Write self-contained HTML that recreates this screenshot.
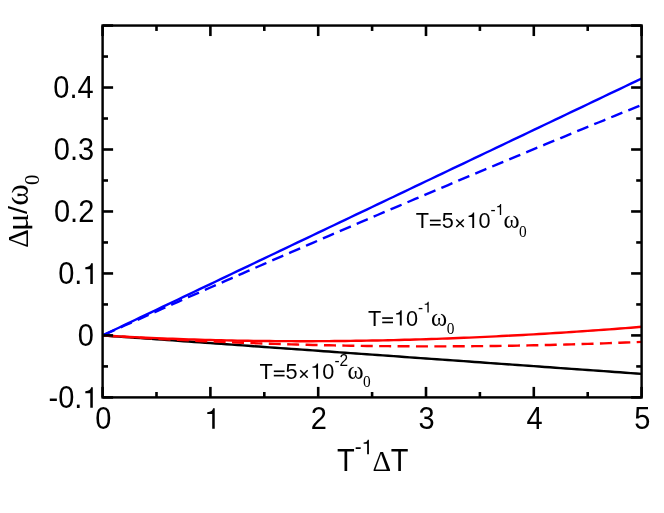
<!DOCTYPE html><html><head><meta charset="utf-8"><style>html,body{margin:0;padding:0;background:#fff}svg{display:block;will-change:transform}</style></head><body><svg width="664" height="513" viewBox="0 0 664 513">
<defs><clipPath id="mu"><rect x="-100" y="-100" width="400" height="104.3"/></clipPath></defs>
<rect width="664" height="513" fill="#fff"/>
<g fill="none" stroke-width="2.40" stroke-linejoin="round">
<path d="M102.60,335.42 L107.99,335.81 L113.38,336.19 L118.77,336.58 L124.16,336.96 L129.55,337.35 L134.94,337.73 L140.33,338.11 L145.72,338.50 L151.11,338.88 L156.50,339.27 L161.89,339.65 L167.28,340.04 L172.67,340.42 L178.06,340.80 L183.45,341.19 L188.84,341.57 L194.23,341.96 L199.62,342.34 L205.01,342.73 L210.40,343.11 L215.79,343.49 L221.18,343.88 L226.57,344.26 L231.96,344.65 L237.35,345.03 L242.74,345.42 L248.13,345.80 L253.52,346.18 L258.91,346.57 L264.30,346.95 L269.69,347.34 L275.08,347.72 L280.47,348.11 L285.86,348.49 L291.25,348.87 L296.64,349.26 L302.03,349.64 L307.42,350.03 L312.81,350.41 L318.20,350.79 L323.59,351.18 L328.98,351.56 L334.37,351.95 L339.76,352.33 L345.15,352.72 L350.54,353.10 L355.93,353.48 L361.32,353.87 L366.71,354.25 L372.10,354.64 L377.49,355.02 L382.88,355.41 L388.27,355.79 L393.66,356.17 L399.05,356.56 L404.44,356.94 L409.83,357.33 L415.22,357.71 L420.61,358.10 L426.00,358.48 L431.39,358.86 L436.78,359.25 L442.17,359.63 L447.56,360.02 L452.95,360.40 L458.34,360.79 L463.73,361.17 L469.12,361.55 L474.51,361.94 L479.90,362.32 L485.29,362.71 L490.68,363.09 L496.07,363.47 L501.46,363.86 L506.85,364.24 L512.24,364.63 L517.63,365.01 L523.02,365.40 L528.41,365.78 L533.80,366.16 L539.19,366.55 L544.58,366.93 L549.97,367.32 L555.36,367.70 L560.75,368.09 L566.14,368.47 L571.53,368.85 L576.92,369.24 L582.31,369.62 L587.70,370.01 L593.09,370.39 L598.48,370.78 L603.87,371.16 L609.26,371.54 L614.65,371.93 L620.04,372.31 L625.43,372.70 L630.82,373.08 L636.21,373.47 L641.60,373.85" stroke="#000"/>
<path d="M102.60,335.42 L107.99,335.74 L113.38,336.04 L118.77,336.34 L124.16,336.62 L129.55,336.90 L134.94,337.17 L140.33,337.43 L145.72,337.68 L151.11,337.92 L156.50,338.15 L161.89,338.37 L167.28,338.59 L172.67,338.79 L178.06,338.99 L183.45,339.18 L188.84,339.36 L194.23,339.53 L199.62,339.69 L205.01,339.85 L210.40,339.99 L215.79,340.13 L221.18,340.26 L226.57,340.38 L231.96,340.49 L237.35,340.59 L242.74,340.69 L248.13,340.78 L253.52,340.85 L258.91,340.92 L264.30,340.99 L269.69,341.04 L275.08,341.09 L280.47,341.12 L285.86,341.15 L291.25,341.17 L296.64,341.19 L302.03,341.19 L307.42,341.19 L312.81,341.18 L318.20,341.16 L323.59,341.14 L328.98,341.10 L334.37,341.06 L339.76,341.01 L345.15,340.95 L350.54,340.89 L355.93,340.82 L361.32,340.74 L366.71,340.65 L372.10,340.55 L377.49,340.45 L382.88,340.34 L388.27,340.22 L393.66,340.10 L399.05,339.96 L404.44,339.82 L409.83,339.68 L415.22,339.52 L420.61,339.36 L426.00,339.19 L431.39,339.01 L436.78,338.83 L442.17,338.64 L447.56,338.44 L452.95,338.24 L458.34,338.02 L463.73,337.80 L469.12,337.58 L474.51,337.34 L479.90,337.10 L485.29,336.86 L490.68,336.60 L496.07,336.34 L501.46,336.07 L506.85,335.80 L512.24,335.52 L517.63,335.23 L523.02,334.93 L528.41,334.63 L533.80,334.33 L539.19,334.01 L544.58,333.69 L549.97,333.36 L555.36,333.03 L560.75,332.69 L566.14,332.34 L571.53,331.99 L576.92,331.63 L582.31,331.26 L587.70,330.89 L593.09,330.51 L598.48,330.12 L603.87,329.73 L609.26,329.33 L614.65,328.93 L620.04,328.52 L625.43,328.10 L630.82,327.68 L636.21,327.25 L641.60,326.82" stroke="#f00"/>
<path d="M102.60,335.42 L107.99,335.78 L113.38,336.13 L118.77,336.48 L124.16,336.81 L129.55,337.15 L134.94,337.47 L140.33,337.79 L145.72,338.11 L151.11,338.42 L156.50,338.72 L161.89,339.02 L167.28,339.31 L172.67,339.59 L178.06,339.87 L183.45,340.15 L188.84,340.41 L194.23,340.67 L199.62,340.93 L205.01,341.18 L210.40,341.42 L215.79,341.66 L221.18,341.89 L226.57,342.12 L231.96,342.34 L237.35,342.56 L242.74,342.76 L248.13,342.97 L253.52,343.16 L258.91,343.36 L264.30,343.54 L269.69,343.72 L275.08,343.89 L280.47,344.06 L285.86,344.22 L291.25,344.38 L296.64,344.53 L302.03,344.67 L307.42,344.81 L312.81,344.94 L318.20,345.07 L323.59,345.19 L328.98,345.30 L334.37,345.41 L339.76,345.51 L345.15,345.61 L350.54,345.70 L355.93,345.79 L361.32,345.87 L366.71,345.94 L372.10,346.01 L377.49,346.07 L382.88,346.12 L388.27,346.17 L393.66,346.22 L399.05,346.26 L404.44,346.29 L409.83,346.31 L415.22,346.33 L420.61,346.35 L426.00,346.36 L431.39,346.36 L436.78,346.36 L442.17,346.35 L447.56,346.33 L452.95,346.31 L458.34,346.28 L463.73,346.25 L469.12,346.21 L474.51,346.17 L479.90,346.12 L485.29,346.06 L490.68,346.00 L496.07,345.93 L501.46,345.86 L506.85,345.78 L512.24,345.69 L517.63,345.60 L523.02,345.50 L528.41,345.40 L533.80,345.29 L539.19,345.18 L544.58,345.06 L549.97,344.93 L555.36,344.80 L560.75,344.66 L566.14,344.51 L571.53,344.36 L576.92,344.21 L582.31,344.04 L587.70,343.88 L593.09,343.70 L598.48,343.52 L603.87,343.34 L609.26,343.14 L614.65,342.95 L620.04,342.74 L625.43,342.53 L630.82,342.32 L636.21,342.10 L641.60,341.87" stroke="#f00" stroke-dasharray="12 6.4" stroke-dashoffset="17.6"/>
<path d="M102.60,335.42 L107.99,332.86 L113.38,330.29 L118.77,327.72 L124.16,325.15 L129.55,322.58 L134.94,320.01 L140.33,317.44 L145.72,314.87 L151.11,312.31 L156.50,309.74 L161.89,307.17 L167.28,304.60 L172.67,302.03 L178.06,299.46 L183.45,296.89 L188.84,294.32 L194.23,291.75 L199.62,289.19 L205.01,286.62 L210.40,284.05 L215.79,281.48 L221.18,278.91 L226.57,276.34 L231.96,273.77 L237.35,271.20 L242.74,268.63 L248.13,266.07 L253.52,263.50 L258.91,260.93 L264.30,258.36 L269.69,255.79 L275.08,253.22 L280.47,250.65 L285.86,248.08 L291.25,245.51 L296.64,242.95 L302.03,240.38 L307.42,237.81 L312.81,235.24 L318.20,232.67 L323.59,230.10 L328.98,227.53 L334.37,224.96 L339.76,222.39 L345.15,219.83 L350.54,217.26 L355.93,214.69 L361.32,212.12 L366.71,209.55 L372.10,206.98 L377.49,204.41 L382.88,201.84 L388.27,199.28 L393.66,196.71 L399.05,194.14 L404.44,191.57 L409.83,189.00 L415.22,186.43 L420.61,183.86 L426.00,181.29 L431.39,178.72 L436.78,176.16 L442.17,173.59 L447.56,171.02 L452.95,168.45 L458.34,165.88 L463.73,163.31 L469.12,160.74 L474.51,158.17 L479.90,155.60 L485.29,153.04 L490.68,150.47 L496.07,147.90 L501.46,145.33 L506.85,142.76 L512.24,140.19 L517.63,137.62 L523.02,135.05 L528.41,132.48 L533.80,129.92 L539.19,127.35 L544.58,124.78 L549.97,122.21 L555.36,119.64 L560.75,117.07 L566.14,114.50 L571.53,111.93 L576.92,109.36 L582.31,106.80 L587.70,104.23 L593.09,101.66 L598.48,99.09 L603.87,96.52 L609.26,93.95 L614.65,91.38 L620.04,88.81 L625.43,86.25 L630.82,83.68 L636.21,81.11 L641.60,78.54" stroke="#00f"/>
<path d="M102.60,335.42 L107.99,333.01 L113.38,330.59 L118.77,328.18 L124.16,325.77 L129.55,323.36 L134.94,320.95 L140.33,318.55 L145.72,316.15 L151.11,313.75 L156.50,311.35 L161.89,308.96 L167.28,306.56 L172.67,304.17 L178.06,301.79 L183.45,299.40 L188.84,297.02 L194.23,294.64 L199.62,292.26 L205.01,289.88 L210.40,287.51 L215.79,285.13 L221.18,282.76 L226.57,280.40 L231.96,278.03 L237.35,275.67 L242.74,273.31 L248.13,270.95 L253.52,268.59 L258.91,266.24 L264.30,263.89 L269.69,261.54 L275.08,259.19 L280.47,256.84 L285.86,254.50 L291.25,252.16 L296.64,249.82 L302.03,247.49 L307.42,245.15 L312.81,242.82 L318.20,240.49 L323.59,238.16 L328.98,235.84 L334.37,233.52 L339.76,231.20 L345.15,228.88 L350.54,226.56 L355.93,224.25 L361.32,221.94 L366.71,219.63 L372.10,217.32 L377.49,215.02 L382.88,212.72 L388.27,210.42 L393.66,208.12 L399.05,205.82 L404.44,203.53 L409.83,201.24 L415.22,198.95 L420.61,196.67 L426.00,194.38 L431.39,192.10 L436.78,189.82 L442.17,187.54 L447.56,185.27 L452.95,183.00 L458.34,180.73 L463.73,178.46 L469.12,176.19 L474.51,173.93 L479.90,171.67 L485.29,169.41 L490.68,167.15 L496.07,164.90 L501.46,162.64 L506.85,160.39 L512.24,158.15 L517.63,155.90 L523.02,153.66 L528.41,151.42 L533.80,149.18 L539.19,146.94 L544.58,144.71 L549.97,142.48 L555.36,140.25 L560.75,138.02 L566.14,135.79 L571.53,133.57 L576.92,131.35 L582.31,129.13 L587.70,126.91 L593.09,124.70 L598.48,122.49 L603.87,120.28 L609.26,118.07 L614.65,115.87 L620.04,113.67 L625.43,111.47 L630.82,109.27 L636.21,107.07 L641.60,104.88" stroke="#00f" stroke-dasharray="12 6.4" stroke-dashoffset="16.9"/>
</g>
<g stroke="#000" stroke-width="2.60">
<line x1="102.60" y1="397.40" x2="102.60" y2="386.90"/>
<line x1="102.60" y1="25.55" x2="102.60" y2="36.05"/>
<line x1="156.50" y1="397.40" x2="156.50" y2="392.00"/>
<line x1="156.50" y1="25.55" x2="156.50" y2="30.95"/>
<line x1="210.40" y1="397.40" x2="210.40" y2="386.90"/>
<line x1="210.40" y1="25.55" x2="210.40" y2="36.05"/>
<line x1="264.30" y1="397.40" x2="264.30" y2="392.00"/>
<line x1="264.30" y1="25.55" x2="264.30" y2="30.95"/>
<line x1="318.20" y1="397.40" x2="318.20" y2="386.90"/>
<line x1="318.20" y1="25.55" x2="318.20" y2="36.05"/>
<line x1="372.10" y1="397.40" x2="372.10" y2="392.00"/>
<line x1="372.10" y1="25.55" x2="372.10" y2="30.95"/>
<line x1="426.00" y1="397.40" x2="426.00" y2="386.90"/>
<line x1="426.00" y1="25.55" x2="426.00" y2="36.05"/>
<line x1="479.90" y1="397.40" x2="479.90" y2="392.00"/>
<line x1="479.90" y1="25.55" x2="479.90" y2="30.95"/>
<line x1="533.80" y1="397.40" x2="533.80" y2="386.90"/>
<line x1="533.80" y1="25.55" x2="533.80" y2="36.05"/>
<line x1="587.70" y1="397.40" x2="587.70" y2="392.00"/>
<line x1="587.70" y1="25.55" x2="587.70" y2="30.95"/>
<line x1="641.60" y1="397.40" x2="641.60" y2="386.90"/>
<line x1="641.60" y1="25.55" x2="641.60" y2="36.05"/>
<line x1="102.60" y1="397.40" x2="113.10" y2="397.40"/>
<line x1="641.60" y1="397.40" x2="631.10" y2="397.40"/>
<line x1="102.60" y1="366.41" x2="108.00" y2="366.41"/>
<line x1="641.60" y1="366.41" x2="636.20" y2="366.41"/>
<line x1="102.60" y1="335.42" x2="113.10" y2="335.42"/>
<line x1="641.60" y1="335.42" x2="631.10" y2="335.42"/>
<line x1="102.60" y1="304.44" x2="108.00" y2="304.44"/>
<line x1="641.60" y1="304.44" x2="636.20" y2="304.44"/>
<line x1="102.60" y1="273.45" x2="113.10" y2="273.45"/>
<line x1="641.60" y1="273.45" x2="631.10" y2="273.45"/>
<line x1="102.60" y1="242.46" x2="108.00" y2="242.46"/>
<line x1="641.60" y1="242.46" x2="636.20" y2="242.46"/>
<line x1="102.60" y1="211.47" x2="113.10" y2="211.47"/>
<line x1="641.60" y1="211.47" x2="631.10" y2="211.47"/>
<line x1="102.60" y1="180.49" x2="108.00" y2="180.49"/>
<line x1="641.60" y1="180.49" x2="636.20" y2="180.49"/>
<line x1="102.60" y1="149.50" x2="113.10" y2="149.50"/>
<line x1="641.60" y1="149.50" x2="631.10" y2="149.50"/>
<line x1="102.60" y1="118.51" x2="108.00" y2="118.51"/>
<line x1="641.60" y1="118.51" x2="636.20" y2="118.51"/>
<line x1="102.60" y1="87.52" x2="113.10" y2="87.52"/>
<line x1="641.60" y1="87.52" x2="631.10" y2="87.52"/>
<line x1="102.60" y1="56.54" x2="108.00" y2="56.54"/>
<line x1="641.60" y1="56.54" x2="636.20" y2="56.54"/>
<line x1="102.60" y1="25.55" x2="113.10" y2="25.55"/>
<line x1="641.60" y1="25.55" x2="631.10" y2="25.55"/>
</g>
<rect x="102.60" y="25.55" width="539.00" height="371.85" fill="none" stroke="#000" stroke-width="2.45"/>
<g fill="#000"><text transform="translate(95.14,428.80) scale(1.000,1.052)" font-family="'Liberation Sans', sans-serif" font-size="29.00">0</text></g>
<g fill="#000"><path transform="translate(204.33,428.80) scale(0.02900)" d="M359,0 L359,-709 L302,-709 C288,-632 232,-578 101,-570 L101,-507 L272,-507 L272,0 Z"/></g>
<g fill="#000"><text transform="translate(310.75,428.80) scale(1.000,1.052)" font-family="'Liberation Sans', sans-serif" font-size="29.00">2</text></g>
<g fill="#000"><text transform="translate(418.62,428.80) scale(1.000,1.052)" font-family="'Liberation Sans', sans-serif" font-size="29.00">3</text></g>
<g fill="#000"><text transform="translate(526.45,428.80) scale(1.000,1.052)" font-family="'Liberation Sans', sans-serif" font-size="29.00">4</text></g>
<g fill="#000"><text transform="translate(634.17,428.80) scale(1.000,1.052)" font-family="'Liberation Sans', sans-serif" font-size="29.00">5</text></g>
<g fill="#000"><text transform="translate(48.55,407.85) scale(1.000,1.052)" font-family="'Liberation Sans', sans-serif" font-size="29.00">-</text><text transform="translate(58.20,407.85) scale(1.000,1.052)" font-family="'Liberation Sans', sans-serif" font-size="29.00">0</text><text transform="translate(74.33,407.85) scale(1.000,1.052)" font-family="'Liberation Sans', sans-serif" font-size="29.00">.</text><path transform="translate(82.39,407.85) scale(0.02900)" d="M359,0 L359,-709 L302,-709 C288,-632 232,-578 101,-570 L101,-507 L272,-507 L272,0 Z"/></g>
<g fill="#000"><text transform="translate(77.81,345.87) scale(1.000,1.052)" font-family="'Liberation Sans', sans-serif" font-size="29.00">0</text></g>
<g fill="#000"><text transform="translate(58.20,283.90) scale(1.000,1.052)" font-family="'Liberation Sans', sans-serif" font-size="29.00">0</text><text transform="translate(74.33,283.90) scale(1.000,1.052)" font-family="'Liberation Sans', sans-serif" font-size="29.00">.</text><path transform="translate(82.39,283.90) scale(0.02900)" d="M359,0 L359,-709 L302,-709 C288,-632 232,-578 101,-570 L101,-507 L272,-507 L272,0 Z"/></g>
<g fill="#000"><text transform="translate(53.97,221.92) scale(1.000,1.052)" font-family="'Liberation Sans', sans-serif" font-size="29.00">0</text><text transform="translate(70.09,221.92) scale(1.000,1.052)" font-family="'Liberation Sans', sans-serif" font-size="29.00">.</text><text transform="translate(78.16,221.92) scale(1.000,1.052)" font-family="'Liberation Sans', sans-serif" font-size="29.00">2</text></g>
<g fill="#000"><text transform="translate(53.77,159.95) scale(1.000,1.052)" font-family="'Liberation Sans', sans-serif" font-size="29.00">0</text><text transform="translate(69.89,159.95) scale(1.000,1.052)" font-family="'Liberation Sans', sans-serif" font-size="29.00">.</text><text transform="translate(77.95,159.95) scale(1.000,1.052)" font-family="'Liberation Sans', sans-serif" font-size="29.00">3</text></g>
<g fill="#000"><text transform="translate(53.36,97.97) scale(1.000,1.052)" font-family="'Liberation Sans', sans-serif" font-size="29.00">0</text><text transform="translate(69.48,97.97) scale(1.000,1.052)" font-family="'Liberation Sans', sans-serif" font-size="29.00">.</text><text transform="translate(77.55,97.97) scale(1.000,1.052)" font-family="'Liberation Sans', sans-serif" font-size="29.00">4</text></g>
<g fill="#000"><text transform="translate(336.95,470.70) scale(1.000,1.065)" font-family="'Liberation Sans', sans-serif" font-size="29.00">T</text><text transform="translate(354.67,454.23) scale(1.000,1.052)" font-family="'Liberation Sans', sans-serif" font-size="20.59">-</text><path transform="translate(361.53,454.23) scale(0.02059)" d="M359,0 L359,-709 L302,-709 C288,-632 232,-578 101,-570 L101,-507 L272,-507 L272,0 Z"/><text transform="translate(372.54,470.70) scale(1.000,1.045)" font-family="'Liberation Serif', serif" font-size="29.00">Δ</text><text transform="translate(390.73,470.70) scale(1.000,1.065)" font-family="'Liberation Sans', sans-serif" font-size="29.00">T</text></g>
<g fill="#000" transform="translate(28,247.3) rotate(-90)"><text transform="translate(-0.43,0.00) scale(1.000,1.045)" font-family="'Liberation Serif', serif" font-size="29.00">Δ</text><g clip-path="url(#mu)"><text transform="translate(16.01,0.00) scale(1.150,1.090)" font-family="'Liberation Serif', serif" font-size="29.00">μ</text></g><text transform="translate(33.29,-0.81) scale(1.000,0.905)" font-family="'Liberation Sans', sans-serif" font-size="29.00">/</text><text transform="translate(41.64,0.00) scale(1.130,1.170)" font-family="'Liberation Serif', serif" font-size="29.00">ω</text><text transform="translate(62.41,10.58) scale(1.000,1.040)" font-family="'Liberation Serif', serif" font-size="20.59">0</text></g>
<g fill="#000"><text transform="translate(415.70,228.00) scale(1.000,1.050)" font-family="'Liberation Sans', sans-serif" font-size="21.70">T</text><rect x="429.91" y="223.99" width="10.76" height="1.65"/><rect x="429.91" y="219.65" width="10.76" height="1.65"/><text transform="translate(441.63,228.00) scale(1.000,1.052)" font-family="'Liberation Sans', sans-serif" font-size="21.70">5</text><path d="M456.30,219.45 L463.77,226.92 M456.30,226.92 L463.77,219.45" stroke="#000" stroke-width="1.52" fill="none"/><path transform="translate(466.37,228.00) scale(0.02170)" d="M359,0 L359,-709 L302,-709 C288,-632 232,-578 101,-570 L101,-507 L272,-507 L272,0 Z"/><text transform="translate(478.43,228.00) scale(1.000,1.052)" font-family="'Liberation Sans', sans-serif" font-size="21.70">0</text><text transform="translate(490.50,214.98) scale(1.000,1.052)" font-family="'Liberation Sans', sans-serif" font-size="15.41">-</text><path transform="translate(495.63,214.98) scale(0.01541)" d="M359,0 L359,-709 L302,-709 C288,-632 232,-578 101,-570 L101,-507 L272,-507 L272,0 Z"/><text transform="translate(503.55,228.00) scale(1.130,1.170)" font-family="'Liberation Serif', serif" font-size="21.70">ω</text><text transform="translate(519.08,236.68) scale(1.000,1.040)" font-family="'Liberation Serif', serif" font-size="15.41">0</text></g>
<g fill="#000"><text transform="translate(368.00,325.60) scale(1.000,1.050)" font-family="'Liberation Sans', sans-serif" font-size="21.70">T</text><rect x="382.21" y="321.59" width="10.76" height="1.65"/><rect x="382.21" y="317.25" width="10.76" height="1.65"/><path transform="translate(393.93,325.60) scale(0.02170)" d="M359,0 L359,-709 L302,-709 C288,-632 232,-578 101,-570 L101,-507 L272,-507 L272,0 Z"/><text transform="translate(406.00,325.60) scale(1.000,1.052)" font-family="'Liberation Sans', sans-serif" font-size="21.70">0</text><text transform="translate(418.06,312.58) scale(1.000,1.052)" font-family="'Liberation Sans', sans-serif" font-size="15.41">-</text><path transform="translate(423.19,312.58) scale(0.01541)" d="M359,0 L359,-709 L302,-709 C288,-632 232,-578 101,-570 L101,-507 L272,-507 L272,0 Z"/><text transform="translate(431.11,325.60) scale(1.130,1.170)" font-family="'Liberation Serif', serif" font-size="21.70">ω</text><text transform="translate(446.64,334.28) scale(1.000,1.040)" font-family="'Liberation Serif', serif" font-size="15.41">0</text></g>
<g fill="#000"><text transform="translate(259.60,378.80) scale(1.000,1.050)" font-family="'Liberation Sans', sans-serif" font-size="21.70">T</text><rect x="273.81" y="374.79" width="10.76" height="1.65"/><rect x="273.81" y="370.45" width="10.76" height="1.65"/><text transform="translate(285.53,378.80) scale(1.000,1.052)" font-family="'Liberation Sans', sans-serif" font-size="21.70">5</text><path d="M300.20,370.25 L307.67,377.71 M300.20,377.71 L307.67,370.25" stroke="#000" stroke-width="1.52" fill="none"/><path transform="translate(310.27,378.80) scale(0.02170)" d="M359,0 L359,-709 L302,-709 C288,-632 232,-578 101,-570 L101,-507 L272,-507 L272,0 Z"/><text transform="translate(322.33,378.80) scale(1.000,1.052)" font-family="'Liberation Sans', sans-serif" font-size="21.70">0</text><text transform="translate(334.40,365.78) scale(1.000,1.052)" font-family="'Liberation Sans', sans-serif" font-size="15.41">-</text><text transform="translate(339.53,365.78) scale(1.000,1.052)" font-family="'Liberation Sans', sans-serif" font-size="15.41">2</text><text transform="translate(347.45,378.80) scale(1.130,1.170)" font-family="'Liberation Serif', serif" font-size="21.70">ω</text><text transform="translate(362.98,387.48) scale(1.000,1.040)" font-family="'Liberation Serif', serif" font-size="15.41">0</text></g>
</svg></body></html>
